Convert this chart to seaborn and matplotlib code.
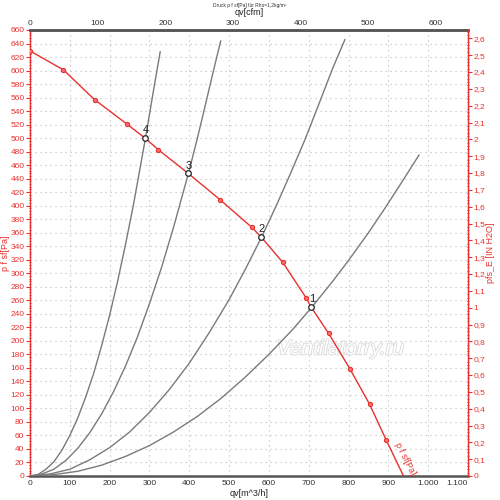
import matplotlib
matplotlib.use("Agg")
import matplotlib.pyplot as plt
import matplotlib.ticker as mticker
import matplotlib.patheffects as pe
import pandas as pd
import seaborn as sns

# fan curve, p f sf [Pa] over qv [m^3/h]
fan_q = [0, 84, 162, 243, 289, 322, 397, 477, 557, 580, 635, 693, 706, 750, 804, 853, 894, 938]
fan_p = [629, 601, 557, 521, 500, 483, 448, 409, 368, 354, 316, 264, 250, 211, 158, 106, 54, 0]
# small red markers on the fan curve
mark_q = [0, 84, 162, 243, 322, 477, 557, 635, 693, 750, 804, 853, 894]
mark_p = [629, 601, 557, 521, 483, 409, 368, 316, 264, 211, 158, 106, 54]

# system curves
sys1_q = [0, 60, 120, 180, 240, 300, 360, 420, 480, 540, 600, 660, 708, 760, 800, 850, 890, 935, 977]
sys1_p = [0, 2, 7, 16, 29, 45, 65, 88, 115, 146, 180, 217, 250, 288, 319, 360, 395, 436, 475]
sys2_q = [0, 50, 100, 150, 200, 250, 300, 350, 400, 450, 500, 540, 582, 620, 650, 690, 720, 760, 791]
sys2_p = [0, 3, 10, 24, 42, 65, 94, 128, 167, 212, 261, 305, 354, 402, 442, 497, 542, 603, 646]
sys3_q = [0, 30, 60, 90, 120, 150, 180, 210, 240, 270, 300, 330, 360, 398, 420, 440, 460, 479]
sys3_p = [0, 3, 10, 23, 41, 64, 92, 125, 163, 206, 255, 308, 367, 448, 499, 548, 598, 644]
sys4_q = [0, 20, 40, 60, 80, 100, 120, 140, 160, 180, 200, 220, 240, 260, 290, 310, 327]
sys4_p = [0, 2, 10, 21, 38, 60, 86, 117, 152, 193, 238, 288, 343, 402, 500, 570, 628]

# operating points
op_q = [706, 580, 397, 289]
op_p = [250, 354, 448, 500]
op_labels = ["1", "2", "3", "4"]

# tick labels
bottom_ticks = [0, 100, 200, 300, 400, 500, 600, 700, 800, 900, 1000, 1100]
bottom_labels = ["0", "100", "200", "300", "400", "500", "600", "700", "800", "900", "1.000", "1.100"]

RED = "#e8312f"
GREY_LINE = "#7a7a7a"
TICK_FS = 6

sys_df = pd.concat([
    pd.DataFrame({"q": sys1_q, "p": sys1_p, "curve": "1"}),
    pd.DataFrame({"q": sys2_q, "p": sys2_p, "curve": "2"}),
    pd.DataFrame({"q": sys3_q, "p": sys3_p, "curve": "3"}),
    pd.DataFrame({"q": sys4_q, "p": sys4_p, "curve": "4"}),
])
fan_df = pd.DataFrame({"q": fan_q, "p": fan_p})
mark_df = pd.DataFrame({"q": mark_q, "p": mark_p})
op_df = pd.DataFrame({"q": op_q, "p": op_p, "label": op_labels})

sns.set_style("white")
plt.rcParams["font.family"] = ["Liberation Sans", "DejaVu Sans"]

fig = plt.figure(figsize=(5, 5), dpi=100)
ax = fig.add_axes([0.06, 0.048, 0.876, 0.892])

ax.set_xlim(0, 1100)
ax.set_ylim(0, 660)

# dotted grid
ax.set_xticks(bottom_ticks, bottom_labels)
ax.yaxis.set_major_locator(mticker.MultipleLocator(20))
ax.yaxis.set_minor_locator(mticker.MultipleLocator(4))
ax.grid(True, which="major", linestyle=(0, (1, 3.5)), color="#bbbbbb", lw=0.8)
ax.set_axisbelow(True)

# watermark
ax.text(780, 188, "Ventilatorry.ru", fontsize=15, style="italic", color="white",
        ha="center", va="center", zorder=1,
        path_effects=[pe.withStroke(linewidth=1.2, foreground="#dadada")])

sns.lineplot(data=sys_df, x="q", y="p", units="curve", estimator=None, sort=False,
             color=GREY_LINE, lw=1.0, ax=ax, zorder=3)
sns.lineplot(data=fan_df, x="q", y="p", sort=False, estimator=None,
             color=RED, lw=1.0, ax=ax, zorder=4)
sns.scatterplot(data=mark_df, x="q", y="p", s=9, color="#ff7070", edgecolor=RED,
                linewidth=0.8, ax=ax, zorder=5)
sns.scatterplot(data=op_df, x="q", y="p", s=16, facecolor="white", edgecolor="#222222",
                linewidth=0.9, ax=ax, zorder=6)
for q, p, lab in zip(op_q, op_p, op_labels):
    ax.text(q + 2, p + 4, lab, fontsize=8, color="#222222", ha="center", va="bottom", zorder=7)

ax.text(941, 26, "p f sf[Pa]", fontsize=6.5, color=RED, rotation=-63,
        ha="center", va="center", zorder=7)

# left axis (red)
ax.spines["left"].set_color(RED)
ax.spines["left"].set_linewidth(1.0)
ax.tick_params(axis="y", which="major", colors=RED, labelsize=TICK_FS, length=3, direction="out", pad=1)
ax.tick_params(axis="y", which="minor", colors=RED, length=1.5, direction="inout")
ax.set_ylabel("p f sf[Pa]", color=RED, fontsize=6.5)
ax.yaxis.set_label_coords(-0.046, 0.5)

# bottom axis
ax.tick_params(axis="x", which="major", colors="#333333", labelsize=TICK_FS, length=0, pad=3)
ax.get_xticklabels()[-1].set_horizontalalignment("right")
ax.set_xlabel("qv[m^3/h]", fontsize=6.5, color="#222222")
ax.xaxis.set_label_coords(0.5, -0.03)
for s in ("bottom", "top"):
    ax.spines[s].set_color("#555555")
    ax.spines[s].set_linewidth(1.8)

# top axis in cfm
ax_top = ax.twiny()
ax_top.set_xlim(0, 1100 / 1.69901)
ax_top.xaxis.set_major_locator(mticker.MultipleLocator(100))
ax_top.tick_params(axis="x", colors="#333333", labelsize=TICK_FS, length=0, pad=2)
ax_top.set_xlabel("qv[cfm]", fontsize=6.5, color="#222222")
ax_top.xaxis.set_label_coords(0.5, 1.034)
ax_top.spines["top"].set_color("#555555")
ax_top.spines["top"].set_linewidth(1.8)
for s in ("left", "right", "bottom"):
    ax_top.spines[s].set_visible(False)

# right axis in inch H2O
ax_r = ax.twinx()
ax_r.set_ylim(0, 660 / 249.089)
ax_r.yaxis.set_major_locator(mticker.MultipleLocator(0.1))
ax_r.yaxis.set_minor_locator(mticker.MultipleLocator(0.02))

def comma(v, pos):
    s = f"{v:.1f}"
    if s.endswith(".0"):
        s = s[:-2]
    return s.replace(".", ",")

ax_r.yaxis.set_major_formatter(mticker.FuncFormatter(comma))
ax_r.tick_params(axis="y", which="major", colors=RED, labelsize=TICK_FS, length=3, pad=1)
ax_r.tick_params(axis="y", which="minor", colors=RED, length=1.5, direction="inout")
ax_r.set_ylabel("pfs_E [IN H2O]", color=RED, fontsize=6.5)
ax_r.yaxis.set_label_coords(1.04, 0.5)
ax_r.spines["right"].set_color(RED)
ax_r.spines["right"].set_linewidth(1.0)
for s in ("left", "top", "bottom"):
    ax_r.spines[s].set_visible(False)

fig.text(0.5, 0.995, "Druck p f sf[Pa] für Rho=1,2kg/m³", fontsize=3.5, color="#333333",
         ha="center", va="top")

fig.savefig("out.png", dpi=100)
